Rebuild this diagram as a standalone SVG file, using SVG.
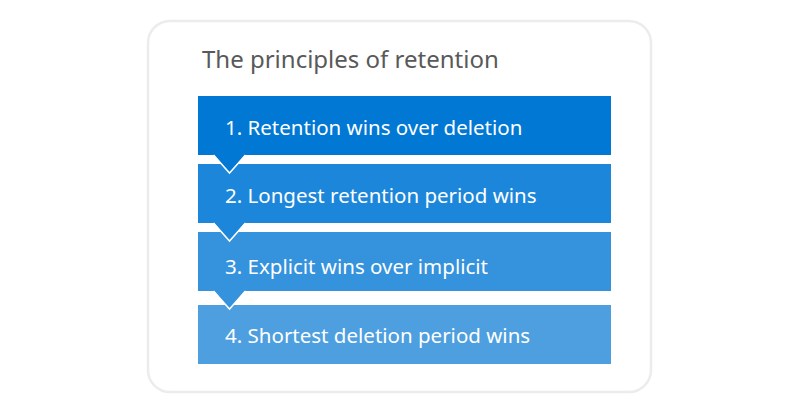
<svg xmlns="http://www.w3.org/2000/svg" width="800" height="414" viewBox="0 0 800 414">
<style>
.t{font-family:"Noto Sans","Open Sans",sans-serif;font-size:20.5px;fill:#ffffff}
.title{font-family:"Noto Sans","Open Sans",sans-serif;font-size:24px;fill:#595959}
.edge{fill:none;stroke:#ffffff;stroke-width:1.5}
</style>
<rect width="800" height="414" fill="#ffffff"/>
<g id="frame">
<rect x="148" y="21" width="503" height="371" rx="22" ry="22" fill="#ffffff" stroke="#ececec" stroke-width="2.5"/>
<text class="title" x="202" y="68">The principles of retention</text>
</g>
<g id="step1">
<rect x="198" y="96" width="413" height="59" fill="#0078d4"/>
<text class="t" x="225" y="135">1. Retention wins over deletion</text>
</g>
<g id="step2">
<rect x="198" y="164" width="413" height="59" fill="#1c87da"/>
<text class="t" x="225" y="203">2. Longest retention period wins</text>
</g>
<g id="step3">
<rect x="198" y="232" width="413" height="59" fill="#3592dd"/>
<text class="t" x="225" y="274">3. Explicit wins over implicit</text>
</g>
<g id="step4">
<rect x="198" y="305" width="413" height="59" fill="#4d9fe0"/>
<text class="t" x="225" y="343">4. Shortest deletion period wins</text>
</g>
<g id="connectors">
<polygon points="213.5,154 245.5,154 229.5,173" fill="#0078d4"/>
<polyline class="edge" points="213.5,155 229.5,173 245.5,155"/>
<polygon points="213.5,222 245.5,222 229.5,241" fill="#1c87da"/>
<polyline class="edge" points="213.5,223 229.5,241 245.5,223"/>
<polygon points="213.5,290 245.5,290 229.5,309" fill="#3592dd"/>
<polyline class="edge" points="213.5,291 229.5,309 245.5,291"/>
</g>
</svg>
